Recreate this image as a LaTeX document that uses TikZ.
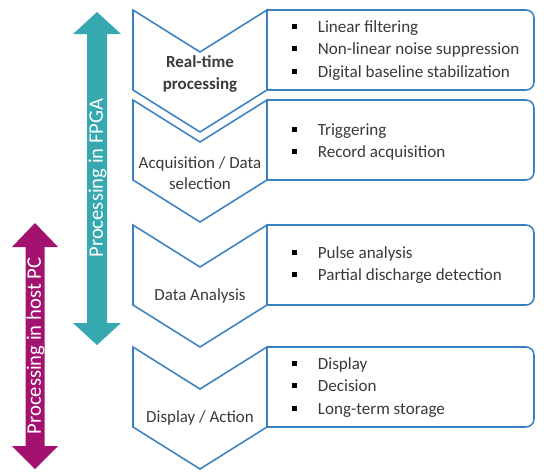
\documentclass[tikz,border=0pt]{standalone}
\usepackage{fontspec}
\setmainfont{Carlito}
\definecolor{teal1}{HTML}{35A8B0}
\definecolor{mag1}{HTML}{A2126E}
\definecolor{blue1}{HTML}{3A7FC0}
\definecolor{txt}{HTML}{3A3A3A}
\newcommand{\sqb}{\textcolor{black}{\rule[0.2em]{0.28em}{0.28em}}}
\tikzset{
  chev/.style={draw=blue1, line width=1.15pt, fill=white, line join=miter},
  bx/.style={draw=blue1, line width=1.15pt, fill=white},
  lbl/.style={text=txt, align=center, font=\fontsize{12.7}{13.8}\selectfont, inner sep=0pt},
  lst/.style={text=txt, anchor=base west, inner sep=0pt, font=\fontsize{12.8}{16.9}\selectfont},
  arrtxt/.style={text=white, rotate=90, font=\fontsize{15.5}{16}\selectfont, inner sep=0pt}
}
\newcommand{\chevron}[1]{%
  \draw[chev] (133,#1) -- (200,#1+42) -- (267,#1) -- (267,#1+80) -- (200,#1+122) -- (133,#1+80) -- cycle;}
\newcommand{\rbox}[1]{%
  \draw[bx] (267,#1) -- (526,#1) arc[start angle=-90, end angle=0, radius=8] -- (534,#1+72) arc[start angle=0, end angle=90, radius=8] -- (267,#1+80) -- cycle;}
\begin{document}
\begin{tikzpicture}[x=0.75pt,y=-0.75pt]
\useasboundingbox (0,0) rectangle (550,475);
% boxes
\rbox{10}
\rbox{100}
\rbox{225}
\rbox{347}
% chevrons
\chevron{10}
\chevron{100}
\chevron{225}
\chevron{347}
% chevron labels
\node[lbl, font=\bfseries\fontsize{12.7}{13.8}\selectfont] (c1) at (200,74) {Real-time\\[2pt]processing};
\node[lbl] (c2) at (200,173) {Acquisition / Data\\[2pt]selection};
\node[lbl] (c3) at (200,296) {Data Analysis};
\node[lbl] (c4) at (200,418) {Display / Action};
% lists
\node[lst] (l1) at (291.5,32) {\begin{tabular}[t]{@{}l@{\hspace{16pt}}l@{}}\sqb & Linear filtering\\ \sqb & Non-linear noise suppression\\ \sqb & Digital baseline stabilization\end{tabular}};
\node[lst] (l2) at (291.5,135) {\begin{tabular}[t]{@{}l@{\hspace{16pt}}l@{}}\sqb & Triggering\\ \sqb & Record acquisition\end{tabular}};
\node[lst] (l3) at (291.5,258) {\begin{tabular}[t]{@{}l@{\hspace{16pt}}l@{}}\sqb & Pulse analysis\\ \sqb & Partial discharge detection\end{tabular}};
\node[lst] (l4) at (291.5,369) {\begin{tabular}[t]{@{}l@{\hspace{16pt}}l@{}}\sqb & Display\\ \sqb & Decision\\ \sqb & Long-term storage\end{tabular}};
% teal double arrow
\fill[teal1] (97,12) -- (121,34) -- (107,34) -- (107,323) -- (121,323) -- (97,345) -- (73,323) -- (87,323) -- (87,34) -- (73,34) -- cycle;
\node[arrtxt] (a1) at (97.5,178) {Processing in FPGA};
% magenta double arrow
\fill[mag1] (35,223) -- (58,247) -- (44.5,247) -- (44.5,446) -- (58,446) -- (35,469) -- (12,446) -- (25.5,446) -- (25.5,247) -- (12,247) -- cycle;
\node[arrtxt] (a2) at (35.5,346) {Processing in host PC};
\end{tikzpicture}
\end{document}
